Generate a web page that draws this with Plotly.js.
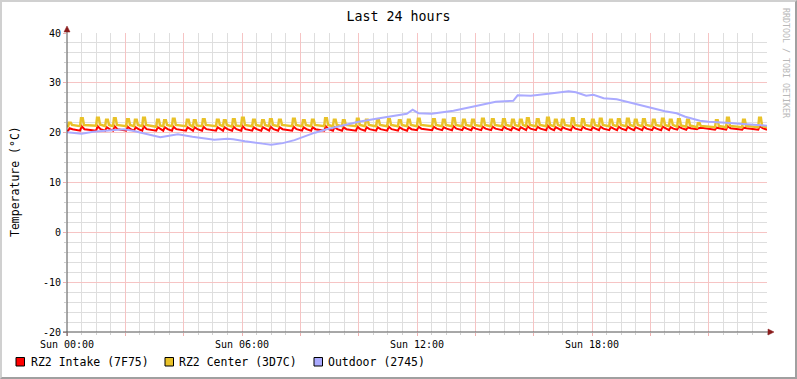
<!DOCTYPE html>
<html><head><meta charset="utf-8">
<script src="https://cdn.plot.ly/plotly-3.0.1.min.js"></script>
<style>
html,body{margin:0;padding:0;background:#fff;}
#wrap{position:relative;width:797px;height:379px;}
#chart{width:797px;height:379px;}
#frame{position:absolute;left:0;top:0;width:797px;height:379px;box-sizing:border-box;border-top:2px solid #d0d0d0;border-left:2px solid #d0d0d0;border-right:2px solid #a0a0a0;border-bottom:2px solid #a0a0a0;pointer-events:none;}
</style></head>
<body><div id="wrap"><div id="chart"></div><div id="frame"></div></div>
<script>
// ---- data (hours since Sun 00:00, °C) ----
const xTickVals = [0,2,4,6,8,10,12,14,16,18,20,22];
const xTickText = ['Sun 00:00','','','Sun 06:00','','','Sun 12:00','','','Sun 18:00','',''];
const yTickVals = [-20,-10,0,10,20,30,40];
const yTickText = ['-20','-10','0','10','20','30','40'];
const seriesNames = ['RZ2 Intake (7F75)','RZ2 Center (3D7C)','Outdoor (2745)'];

const spikeT = [0.07,0.48,1.03,1.34,1.61,2.06,2.33,2.61,3.09,3.33,3.63,4.11,4.35,4.66,5.14,5.38,5.69,6.00,6.38,6.69,6.96,7.27,7.75,8.09,8.40,8.85,9.15,9.46,9.94,10.25,10.63,11.01,11.38,11.69,12.03,12.55,12.89,13.23,13.58,13.89,14.23,14.57,14.95,15.26,15.53,15.77,16.11,16.46,16.73,16.97,17.31,17.66,18.00,18.27,18.62,18.89,19.20,19.47,19.75,20.09,20.40,20.67,20.95,21.26,21.63,22.25,22.63,23.18,23.73];
const centerPeak = [22.0,22.9,23.0,22.6,22.9,22.7,22.6,23.0,22.6,22.5, 22.8,22.6,22.5,22.7,22.6,22.5,22.7,23.0,22.6,22.5, 22.7,22.6,22.8,22.5,22.6,22.9,22.6,22.5,22.8,22.6, 22.6,22.7,22.5,22.6,22.8,22.7,22.6,22.9,22.6,22.6, 22.8,22.7,22.7,22.6,22.6,22.9,22.7,23.0,22.6,22.6, 22.9,22.7,22.6,22.8,22.6,22.7,22.8,22.6,22.7,22.6, 22.8,22.6,22.7,22.6,21.9,22.5,23.0,22.6,23.0];
const centerBase = [21.3,21.3,21.4,21.3,21.3,21.3,21.3,21.3,21.2,21.3, 21.3,21.3,21.2,21.3,21.3,21.3,21.2,21.3,21.3,21.3, 21.3,21.3,21.3,21.3,21.3,21.3,21.3,21.3,21.3,21.3, 21.3,21.3,21.3,21.3,21.3,21.3,21.3,21.3,21.3,21.3, 21.3,21.3,21.3,21.3,21.3,21.3,21.3,21.3,21.3,21.3, 21.3,21.3,21.3,21.3,21.3,21.3,21.3,21.3,21.3,21.3, 21.3,21.3,21.2,21.2,21.1,21.1,21.1,21.1,21.1];
const intakePeak = [20.9,21.3,21.3,21.1,21.3,21.2,21.1,21.3,21.1,21.1, 21.2,21.1,21.1,21.2,21.1,21.1,21.2,21.3,21.1,21.1, 21.2,21.1,21.2,21.1,21.1,21.3,21.1,21.1,21.2,21.1, 21.1,21.2,21.1,21.1,21.2,21.2,21.1,21.3,21.1,21.1, 21.2,21.2,21.2,21.1,21.1,21.3,21.2,21.4,21.1,21.1, 21.3,21.2,21.1,21.2,21.1,21.2,21.2,21.1,21.2,21.1, 21.2,21.1,21.2,21.1,20.9,21.0,21.3,21.0,21.3];
const intakeBase = [20.4,20.4,20.4,20.4,20.4,20.4,20.4,20.4,20.4,20.4, 20.4,20.4,20.4,20.4,20.4,20.4,20.4,20.4,20.4,20.4, 20.4,20.4,20.4,20.4,20.4,20.4,20.4,20.4,20.4,20.4, 20.4,20.4,20.4,20.4,20.5,20.5,20.5,20.5,20.5,20.5, 20.5,20.5,20.5,20.5,20.5,20.5,20.5,20.5,20.5,20.5, 20.5,20.5,20.5,20.5,20.5,20.5,20.5,20.5,20.5,20.5, 20.5,20.5,20.6,20.6,20.7,20.6,20.6,20.6,20.6];

const outT = [0,0.25,0.5,0.9,1.3,1.5,1.95,2.25,2.6,3.0,3.2,3.5,3.8,4.3,4.7,5.05,5.5,5.7,6.1,6.4,6.7,7.0,7.4,7.8,8.2,8.5,8.9,9.5,10.0,10.6,11.2,11.65,11.85,12.05,12.5,13.0,13.25,13.9,14.5,14.7,15.0,15.3,15.45,15.9,16.5,17.0,17.2,17.45,17.8,18.05,18.4,18.85,19.4,19.95,20.5,20.9,21.2,21.7,22.0,22.6,23.05,23.4,24.0];
const outV = [20.1,19.9,19.8,20.2,20.4,20.6,20.7,20.4,19.9,19.4,19.1,19.4,19.7,19.2,18.9,18.6,18.8,18.7,18.3,18.0,17.8,17.6,17.9,18.5,19.4,20.0,20.7,21.6,22.2,22.8,23.4,23.8,24.6,23.9,23.8,24.2,24.4,25.2,26.0,26.2,26.3,26.4,27.5,27.4,27.8,28.1,28.3,28.1,27.4,27.6,26.9,26.7,25.9,25.1,24.3,23.9,23.2,22.4,22.2,22.0,21.8,21.6,21.4];

// ---- build polylines from the read spike values ----
const ix=[0], iy=[intakeBase[0]];
spikeT.forEach((t,i)=>{ ix.push(t-0.03,t+0.02,t+0.12); iy.push(intakeBase[i],intakePeak[i],intakeBase[i]+0.3); });
ix.push(24); iy.push(intakeBase[intakeBase.length-1]);
const cx=[0], cy=[centerBase[0]];
spikeT.forEach((t,i)=>{ cx.push(t-0.03,t,t+0.06,t+0.1); cy.push(centerBase[i],centerPeak[i],centerPeak[i],centerBase[i]+0.25); });
cx.push(24); cy.push(centerBase[centerBase.length-1]);

const colors = ['#ff0000','#e9c229','#aaaaff'];
const MONO = 'DejaVu Sans Mono';
const L=67, T=33, W=700, H=299;
const px = p => (p-L)/W;
const py = p => (T+H-p)/H;

const traces = [
  {x:ix, y:iy, type:'scatter', mode:'lines', name:seriesNames[0], line:{color:colors[0], width:2}, showlegend:false, hoverinfo:'skip'},
  {x:cx, y:cy, type:'scatter', mode:'lines', name:seriesNames[1], line:{color:colors[1], width:2.5}, showlegend:false, hoverinfo:'skip'},
  {x:outT, y:outV, type:'scatter', mode:'lines', name:seriesNames[2], line:{color:colors[2], width:2}, showlegend:false, hoverinfo:'skip'}
];

const legBoxX = [16,165,314];
const legTextX = [30.5,179,328];
const annotations = seriesNames.map((n,i)=>({
  text:n, xref:'paper', yref:'paper', x:px(legTextX[i]-2), y:py(361.5), xanchor:'left', yanchor:'middle',
  showarrow:false, font:{family:MONO, size:11.5, color:'#000'}
}));
annotations.push({text:'Temperature (°C)', xref:'paper', yref:'paper', x:px(15), y:py(182), xanchor:'center', yanchor:'middle', textangle:-90, showarrow:false, font:{family:MONO, size:11.5, color:'#000'}});
annotations.push({text:'RRDTOOL / TOBI OETIKER', xref:'paper', yref:'paper', x:px(786), y:py(63), xanchor:'center', yanchor:'middle', textangle:90, showarrow:false, font:{family:MONO, size:8.3, color:'#b8b8b8'}});

const shapes = seriesNames.map((n,i)=>({
  type:'rect', xref:'paper', yref:'paper', x0:px(legBoxX[i]), x1:px(legBoxX[i]+8.5), y0:py(366), y1:py(357.5),
  fillcolor:colors[i], line:{color:'#000', width:1}
}));
shapes.push({type:'line', xref:'paper', yref:'paper', xsizemode:'pixel', xanchor:0, x0:-4, x1:703, y0:0, y1:0, line:{color:'#505050', width:1}, layer:'above'});
shapes.push({type:'line', xref:'paper', yref:'paper', ysizemode:'pixel', yanchor:0, y0:-4, y1:304, x0:0, x1:0, line:{color:'#505050', width:1}, layer:'above'});
shapes.push({type:'path', xref:'paper', yref:'paper', xsizemode:'pixel', ysizemode:'pixel', xanchor:1, yanchor:0, path:'M 1,-3 L 1,3 L 7,0 Z', fillcolor:'#8a1c1c', line:{color:'#8a1c1c', width:0.5}, layer:'above'});
shapes.push({type:'path', xref:'paper', yref:'paper', xsizemode:'pixel', ysizemode:'pixel', xanchor:0, yanchor:1, path:'M -3,1 L 3,1 L 0,7 Z', fillcolor:'#8a1c1c', line:{color:'#8a1c1c', width:0.5}, layer:'above'});

const layout = {
  width:797, height:379,
  margin:{l:L, r:797-L-W, t:T, b:379-T-H, pad:0},
  paper_bgcolor:'#ffffff', plot_bgcolor:'#ffffff',
  showlegend:false,
  title:{text:'Last 24 hours', font:{family:MONO, size:13.3, color:'#000'}, x:0.5, xanchor:'center', xref:'container', y:1-16/379, yanchor:'middle', yref:'container'},
  xaxis:{type:'linear', range:[0,24], tickmode:'array', tickvals:xTickVals, ticktext:xTickText,
    showgrid:true, gridcolor:'#f6c4c4', gridwidth:1, zeroline:false, showline:false,
    ticks:'outside', ticklen:3, tickcolor:'#f0b0b0',
    tickfont:{family:MONO, size:10, color:'#000'},
    minor:{tickmode:'linear', tick0:0, dtick:0.5, showgrid:true, gridcolor:'#dedede', ticks:'outside', ticklen:2, tickcolor:'#d0d0d0'},
    fixedrange:true},
  yaxis:{range:[-20,40], tickmode:'array', tickvals:yTickVals, ticktext:yTickText,
    showgrid:true, gridcolor:'#f6c4c4', gridwidth:1, zeroline:false, showline:false,
    ticks:'outside', ticklen:3, tickcolor:'#f0b0b0',
    tickfont:{family:MONO, size:10, color:'#000'},
    minor:{tickmode:'linear', tick0:0, dtick:2, showgrid:true, gridcolor:'#dedede', ticks:'outside', ticklen:2, tickcolor:'#d0d0d0'},
    fixedrange:true},
  annotations:annotations,
  shapes:shapes
};
Plotly.newPlot('chart', traces, layout, {staticPlot:true, displayModeBar:false});
</script></body></html>
